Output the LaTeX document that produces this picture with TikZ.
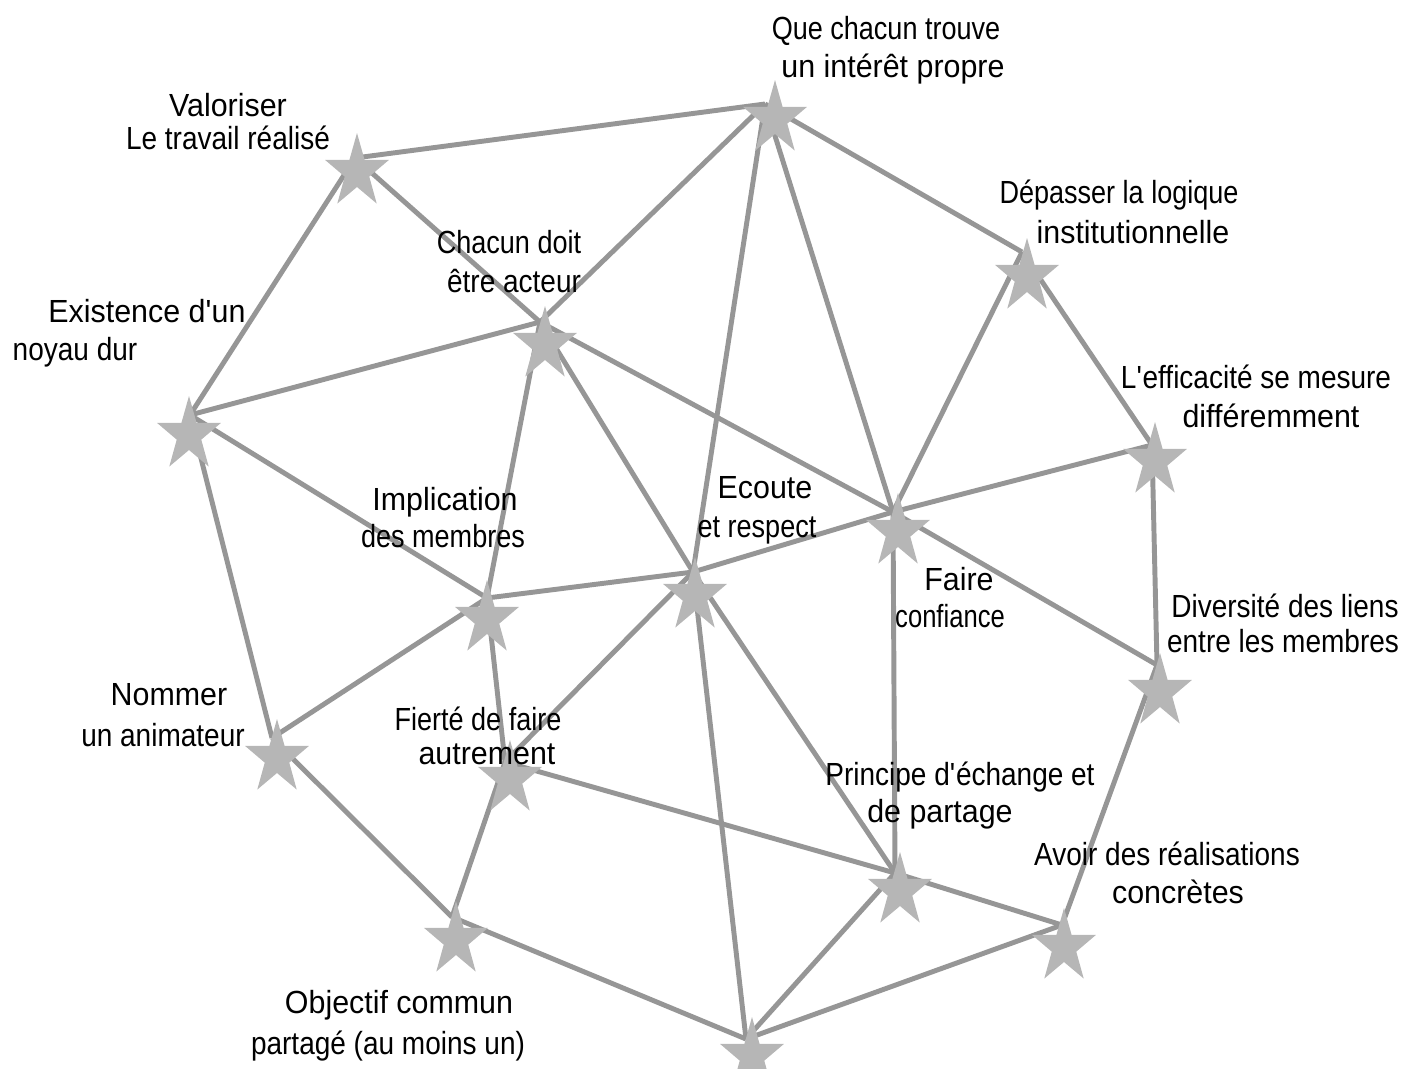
\documentclass[tikz,border=0pt]{standalone}
\usepackage{fontspec}
\setmainfont{Liberation Sans}
\newfontfamily\fullface[FakeStretch=0.95]{Liberation Sans}
\newfontfamily\midface[FakeStretch=0.875]{Liberation Sans}
\newfontfamily\tightface[FakeStretch=0.845]{Liberation Sans}
\newfontfamily\tighterface[FakeStretch=0.80]{Liberation Sans}
\newcommand\apos{\textquotesingle}
\definecolor{linkgrey}{RGB}{150,150,150}
\definecolor{stargrey}{RGB}{182,182,182}
\tikzset{
  starmark/.pic={
    \fill[stargrey, xscale=0.86]
      (-90:39) -- (-54:15) -- (-18:39) -- (18:15) -- (54:39) -- (90:15)
      -- (126:39) -- (162:15) -- (198:39) -- (234:15) -- cycle;
  }
}
\begin{document}
\begin{tikzpicture}[
    x=0.75pt, y=-0.75pt,
    link/.style={draw=linkgrey, line width=3.7pt},
    lab/.style={inner sep=0pt, anchor=base, font=\fullface\fontsize{24}{28}\selectfont},
    labm/.style={lab, font=\midface\fontsize{24}{28}\selectfont},
    labn/.style={lab, font=\tightface\fontsize{24}{28}\selectfont},
    labnn/.style={lab, font=\tighterface\fontsize{24}{28}\selectfont}
  ]
  \useasboundingbox (0,0) rectangle (1402,1068);

  % star centres
  \coordinate (A) at (775,119);
  \coordinate (B) at (357,172);
  \coordinate (C) at (1027,277);
  \coordinate (D) at (545,345);
  \coordinate (E) at (189,435);
  \coordinate (F) at (1155,461);
  \coordinate (G) at (898,532);
  \coordinate (H) at (695,596);
  \coordinate (I) at (487,619);
  \coordinate (J) at (1160,692);
  \coordinate (K) at (277,758);
  \coordinate (L) at (510,779);
  \coordinate (M) at (900,891);
  \coordinate (N) at (1064,947);
  \coordinate (O) at (456,940);
  \coordinate (P) at (752,1056);

  % points where the links meet on each star
  \coordinate (Ah) at (765,104);
  \coordinate (Bh) at (355,158);
  \coordinate (Ch) at (1022,252);
  \coordinate (Dh) at (540,322);
  \coordinate (Eh) at (190,415);
  \coordinate (Fh) at (1152,445);
  \coordinate (Gh) at (893,512);
  \coordinate (Hh) at (693,572);
  \coordinate (Ih) at (487,598);
  \coordinate (Jh) at (1157,665);
  \coordinate (Kh) at (272,738);
  \coordinate (Lh) at (505,762);
  \coordinate (Mh) at (895,873);
  \coordinate (Nh) at (1062,925);
  \coordinate (Oh) at (452,917);
  \coordinate (Ph) at (746,1039);

  % links
  \foreach \u/\v in {A/B, A/C, A/D, A/G, A/H, B/D, B/E, C/F, C/G, D/E, D/G,
                     D/H, D/I, E/I, E/K, F/G, F/J, G/H, G/J, G/M, H/I, H/L,
                     H/M, H/P, I/K, I/L, J/N, K/O, L/M, L/O, M/N, M/P, N/P, O/P}
    \draw[link] (\u h) -- (\v h);

  % stars
  \foreach \s in {A,B,C,D,E,F,G,H,I,J,K,L,M,N,O,P}
    \pic at (\s) {starmark};

  % labels
  \node[labn] (tA1) at (886,39) {Que chacun trouve};
  \node[lab]  (tA2) at (893,77) {un intérêt propre};
  \node[lab]  (tB1) at (228,116) {Valoriser};
  \node[labm] (tB2) at (228,149) {Le travail réalisé};
  \node[labn] (tC1) at (1119,203) {Dépasser la logique};
  \node[lab]  (tC2) at (1133,243) {institutionnelle};
  \node[labn] (tD1) at (509,253) {Chacun doit};
  \node[labm] (tD2) at (514,292) {être acteur};
  \node[lab]  (tE1) at (147,322) {Existence d\apos un};
  \node[labm] (tE2) at (75,360) {noyau dur};
  \node[labm] (tF1) at (1256,388) {L\apos efficacité se mesure};
  \node[lab]  (tF2) at (1271,427) {différemment};
  \node[lab]  (tG1) at (959,590) {Faire};
  \node[labnn](tG2) at (950,627) {confiance};
  \node[lab]  (tH1) at (765,498) {Ecoute};
  \node[labn] (tH2) at (757,537) {et respect};
  \node[lab]  (tI1) at (445,510) {Implication};
  \node[labn] (tI2) at (443,547) {des membres};
  \node[labm] (tJ1) at (1285,617) {Diversité des liens};
  \node[labm] (tJ2) at (1283,652) {entre les membres};
  \node[lab]  (tK1) at (169,705) {Nommer};
  \node[labm] (tK2) at (163,746) {un animateur};
  \node[labn] (tL1) at (478,730) {Fierté de faire};
  \node[lab]  (tL2) at (487,764) {autrement};
  \node[labm] (tM1) at (960,785) {Principe d\apos échange et};
  \node[lab]  (tM2) at (940,822) {de partage};
  \node[labm] (tN1) at (1167,865) {Avoir des réalisations};
  \node[lab]  (tN2) at (1178,903) {concrètes};
  \node[lab]  (tO1) at (399,1013) {Objectif commun};
  \node[labm] (tO2) at (388,1054) {partagé (au moins un)};
\end{tikzpicture}
\end{document}
